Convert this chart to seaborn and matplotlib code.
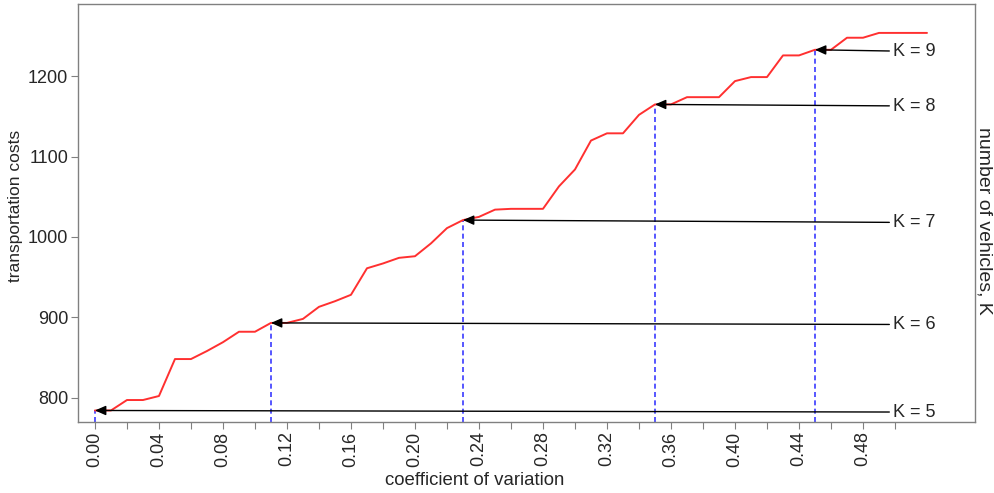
import numpy as np
import pandas as pd
import seaborn as sns
import matplotlib.pyplot as plt

# coefficient of variation (step 0.01) and transportation costs
cv = [round(0.01 * i, 2) for i in range(53)]
costs = [784, 784, 797, 797, 802, 848, 848, 858, 869, 882,
         882, 893, 893, 898, 913, 920, 928, 961, 967, 974,
         976, 992, 1011, 1021, 1025, 1034, 1035, 1035, 1035, 1063,
         1084, 1120, 1129, 1129, 1152, 1165, 1165, 1174, 1174, 1174,
         1194, 1199, 1199, 1226, 1226, 1233, 1233, 1248, 1248, 1254,
         1254, 1254, 1254]

# points where the number of vehicles K changes
k_values = [5, 6, 7, 8, 9]
k_cv = [0.00, 0.11, 0.23, 0.35, 0.45]
k_cost = [784, 893, 1021, 1165, 1233]
k_label_y = [782, 891, 1018, 1163, 1231]
label_x = 0.4985

major_ticks = [0.00, 0.04, 0.08, 0.12, 0.16, 0.20, 0.24, 0.28, 0.32, 0.36, 0.40, 0.44, 0.48]
minor_ticks = [0.02, 0.06, 0.10, 0.14, 0.18, 0.22, 0.26, 0.30, 0.34, 0.38, 0.42, 0.46, 0.50]

df = pd.DataFrame({'cv': cv, 'cost': costs})

sns.set_style('ticks')
plt.rcParams['font.family'] = ['Liberation Sans', 'DejaVu Sans']

fig = plt.figure(figsize=(9.95, 4.93), dpi=100)
ax = fig.add_axes([0.0784, 0.1446, 0.9015, 0.8473])

ylo, yhi = 770, 1290
ax.set_xlim(-0.0106, 0.55)
ax.set_ylim(ylo, yhi)

# blue dashed drop lines
ax.vlines(k_cv, ylo, k_cost, colors='#3a3aff', linestyles=(0, (3, 2)), linewidth=1.2, zorder=2)

sns.lineplot(data=df, x='cv', y='cost', color='#ff3030', linewidth=1.4, ax=ax, zorder=3)

for k, x, y, ly in zip(k_values, k_cv, k_cost, k_label_y):
    ax.annotate(f'K = {k}', xy=(x, y), xytext=(label_x, ly),
                ha='left', va='center', fontsize=13,
                arrowprops=dict(arrowstyle='-|>,head_length=0.5,head_width=0.22',
                                color='black', lw=1.0, shrinkA=0, shrinkB=0),
                zorder=4)

ax.set_xticks(major_ticks)
ax.set_xticklabels([f'{t:.2f}' for t in major_ticks], rotation=90)
ax.set_xticks(minor_ticks, minor=True)
ax.set_yticks([800, 900, 1000, 1100, 1200])
ax.tick_params(axis='both', which='both', labelsize=13, color='#808080',
               length=5, width=0.8, direction='out', pad=2)

for s in ax.spines.values():
    s.set_visible(True)
    s.set_color('#808080')
    s.set_linewidth(1.0)

ax.set_xlabel('coefficient of variation', fontsize=13.4, va='center')
ax.xaxis.set_label_coords(0.4426, -0.1396)
ax.set_ylabel('transportation costs', fontsize=12.5, va='center')
ax.yaxis.set_label_coords(-0.070, 0.516)
ax.text(1.0105, 0.4817, 'number of vehicles, K', transform=ax.transAxes,
        rotation=-90, ha='center', va='center', fontsize=14)

fig.savefig('out.png', dpi=100)
